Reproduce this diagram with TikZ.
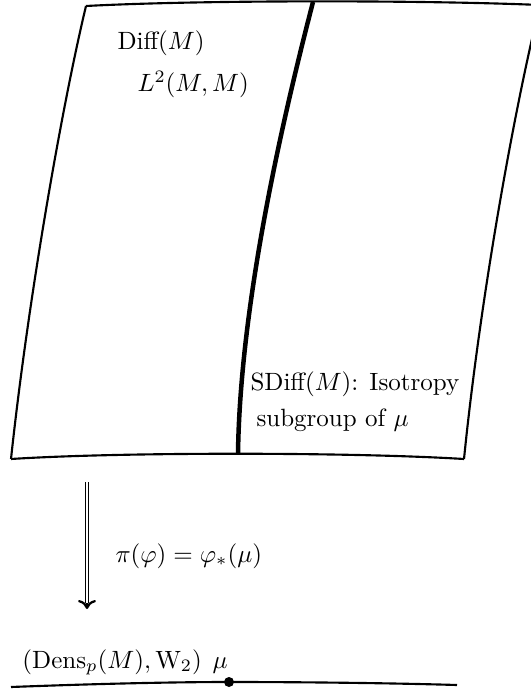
\documentclass[tikz,border=0pt]{standalone}
\usepackage{amsmath}
\usetikzlibrary{arrows.meta}
\begin{document}
\begin{tikzpicture}[x=0.4pt,y=-0.4pt,
  edge/.style={line width=0.85pt},
  fiber/.style={line width=1.8pt},
  lbl/.style={inner sep=0pt, anchor=base west},
  shaft/.style={double, double distance=1pt, line width=0.4pt},
  tipline/.style={line width=0.9pt, -{To[length=3.6pt,width=7.2pt]}}]
\useasboundingbox (0,0) rectangle (531,691);
\clip (0,0) rectangle (531,691);
% corners of the sheet
\coordinate (TL) at (86,6);
\coordinate (TR) at (540,5);
\coordinate (BL) at (11,459);
\coordinate (BR) at (464,459);
\coordinate (FT) at (313,2);
\coordinate (FB) at (238,454);
% sheet
\draw[edge] (TL) .. controls (200,0) and (420,0) .. (TR);
\draw[edge] (TL) .. controls (62,106) and (28,300) .. (BL);
\draw[edge] (TR) .. controls (514,110) and (480,300) .. (BR);
\draw[edge] (BL) .. controls (120,452) and (350,452) .. (BR);
% isotropy fiber
\draw[fiber] (FT) .. controls (285,110) and (240,300) .. (FB);
% labels
\node[lbl] (diff) at (117,50) {Diff$(M)$};
\node[lbl] (ltwo) at (137,92) {$L^2(M,M)$};
\node[lbl] (sdiff) at (250,390) {SDiff$(M)$: Isotropy};
\node[lbl] (subg) at (256,426) {subgroup of $\mu$};
% projection arrow
\coordinate (arrtop) at (87,482);
\coordinate (arrend) at (87,603);
\coordinate (arrtip) at (87,609);
\draw[shaft] (arrtop) -- (arrend);
\draw[tipline] (arrend) -- (arrtip);
\node[lbl] (pi) at (115,562) {$\pi(\varphi)=\varphi_*(\mu)$};
% base space
\coordinate (L0) at (11,687);
\coordinate (R0) at (457,685);
\coordinate (mu) at (229,682);
\draw[edge] (L0) .. controls (90,684) and (170,682) .. (mu) .. controls (300,682) and (390,683) .. (R0);
\fill (mu) circle (5);
\node[lbl] (dens) at (22,668) {$(\mathrm{Dens}_p(M),\mathrm{W}_2)$};
\node[lbl] (mulbl) at (212,668) {$\mu$};
\end{tikzpicture}
\end{document}
